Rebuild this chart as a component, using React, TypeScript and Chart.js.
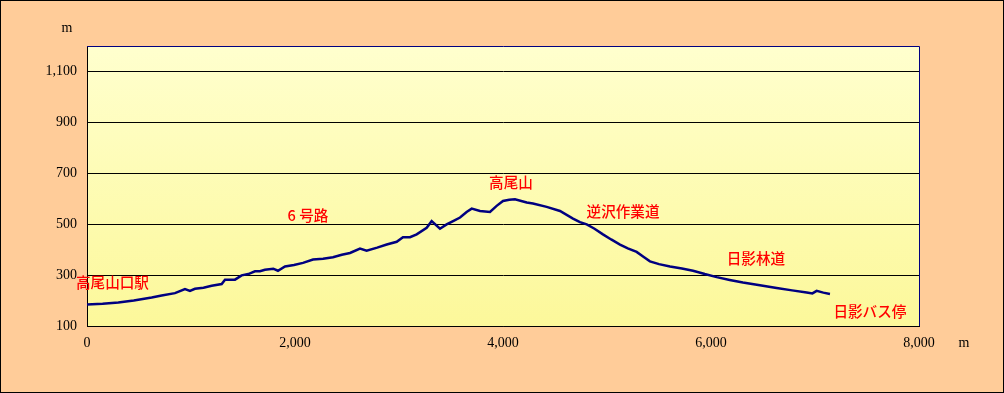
import React, { useEffect, useRef } from "react";
import { Chart, registerables } from "chart.js";

Chart.register(...registerables);

// distance along the trail (m)
const distances = [
  0, 150, 301, 450, 622, 718, 846, 942, 990, 1038, 1120, 1199, 1295, 1327, 1423,
  1487, 1551, 1615, 1663, 1711, 1791, 1836, 1904, 1990, 2077, 2173, 2270, 2365,
  2450, 2529, 2625, 2689, 2790, 2882, 2978, 3038, 3106, 3170, 3266, 3314, 3394,
  3458, 3520, 3587, 3650, 3699, 3779, 3875, 3939, 4000, 4060, 4115, 4228, 4288,
  4420, 4548, 4673, 4740, 4805, 4880, 4961, 5040, 5125, 5200, 5285, 5350, 5413,
  5500, 5606, 5720, 5827, 5940, 6055, 6180, 6307, 6470, 6631, 6780, 6920, 6975,
  7016, 7080, 7144,
];
// elevation (m)
const elevations = [
  184, 187, 192, 200, 212, 220, 229, 245, 238, 246, 250, 258, 265, 282, 282,
  299, 304, 315, 315, 321, 325, 317, 334, 340, 348, 361, 364, 370, 380, 387,
  404, 396, 408, 420, 431, 449, 449, 460, 486, 512, 482, 499, 512, 526, 548,
  561, 552, 548, 572, 591, 596, 598, 585, 581, 568, 552, 522, 508, 499, 482,
  460, 440, 420, 405, 391, 372, 354, 343, 334, 326, 317, 304, 292, 281, 271,
  260, 249, 240, 232, 228, 238, 231, 226,
];

const xTicks = [0, 2000, 4000, 6000, 8000];
const yTicks = [100, 300, 500, 700, 900, 1100];

const labelTexts = ["高尾山口駅", "6 号路", "高尾山", "逆沢作業道", "日影林道", "日影バス停"];
const labelX = [245, 2125, 4077, 5154, 6432, 7528];
const labelY = [270, 535, 665, 549, 365, 159];

export default function App() {
  const ref = useRef<HTMLCanvasElement | null>(null);

  useEffect(() => {
    const canvas = ref.current;
    if (!canvas) return;

    const bgPlugin = {
      id: "plotBg",
      beforeDraw(chart: any) {
        const { ctx, chartArea } = chart;
        const g = ctx.createLinearGradient(0, chartArea.top, 0, chartArea.bottom);
        g.addColorStop(0, "#FFFFCE");
        g.addColorStop(1, "#FCF89A");
        ctx.save();
        ctx.fillStyle = g;
        ctx.fillRect(chartArea.left, chartArea.top, chartArea.right - chartArea.left, chartArea.bottom - chartArea.top);
        ctx.restore();
      },
      afterDraw(chart: any) {
        const { ctx, chartArea, scales } = chart;
        ctx.save();
        // top and right frame
        ctx.strokeStyle = "#000080";
        ctx.lineWidth = 1;
        ctx.beginPath();
        ctx.moveTo(chartArea.left, chartArea.top + 0.5);
        ctx.lineTo(chartArea.right + 0.5, chartArea.top + 0.5);
        ctx.lineTo(chartArea.right + 0.5, chartArea.bottom);
        ctx.stroke();
        // annotations
        ctx.fillStyle = "#FF0000";
        ctx.font = '500 14.6px "Noto Sans CJK JP"';
        ctx.textAlign = "center";
        ctx.textBaseline = "middle";
        for (let i = 0; i < labelTexts.length; i++) {
          const px = scales.x.getPixelForValue(labelX[i]);
          const py = scales.y.getPixelForValue(labelY[i]);
          ctx.fillText(labelTexts[i], px, py);
        }
        // unit labels
        ctx.fillStyle = "#000000";
        ctx.font = '14px "Liberation Serif"';
        ctx.fillText("m", 66, 27);
        ctx.fillText("m", 963, 342);
        ctx.restore();
      },
    };

    const chart = new Chart(canvas, {
      type: "line",
      data: {
        datasets: [
          {
            data: distances.map((d, i) => ({ x: d, y: elevations[i] })),
            borderColor: "#000080",
            borderWidth: 2.5,
            pointRadius: 0,
            tension: 0,
            fill: false,
          },
        ],
      },
      options: {
        animation: false,
        responsive: false,
        devicePixelRatio: 1,
        layout: { padding: { left: 0, right: 84, top: 45, bottom: 0 } },
        plugins: {
          legend: { display: false },
          tooltip: { enabled: false },
        },
        scales: {
          x: {
            type: "linear",
            min: 0,
            max: 8000,
            afterBuildTicks: (s: any) => {
              s.ticks = xTicks.map((v) => ({ value: v }));
            },
            afterFit: (s: any) => {
              s.height = 66;
            },
            grid: { display: false, drawTicks: false },
            border: { display: true, color: "#000000", width: 1 },
            ticks: {
              padding: 9,
              color: "#000000",
              maxRotation: 0,
              font: { family: "Liberation Serif", size: 14 },
              callback: (v: any) => Number(v).toLocaleString("en-US"),
            },
          },
          y: {
            type: "linear",
            min: 100,
            max: 1200,
            afterBuildTicks: (s: any) => {
              s.ticks = yTicks.map((v) => ({ value: v }));
            },
            afterFit: (s: any) => {
              s.width = 86;
            },
            grid: { color: "#000000", lineWidth: 1, drawTicks: false },
            border: { display: true, color: "#000000", width: 1 },
            ticks: {
              padding: 10,
              color: "#000000",
              font: { family: "Liberation Serif", size: 14 },
              callback: (v: any) => Number(v).toLocaleString("en-US"),
            },
          },
        },
      },
      plugins: [bgPlugin],
    });

    return () => chart.destroy();
  }, []);

  return (
    <div
      style={{
        position: "absolute",
        left: 0,
        top: 0,
        width: 1004,
        height: 393,
        boxSizing: "border-box",
        border: "1px solid #000000",
        background: "#FFCC99",
      }}
    >
      <canvas ref={ref} width={1002} height={391} style={{ display: "block", width: 1002, height: 391 }} />
    </div>
  );
}
